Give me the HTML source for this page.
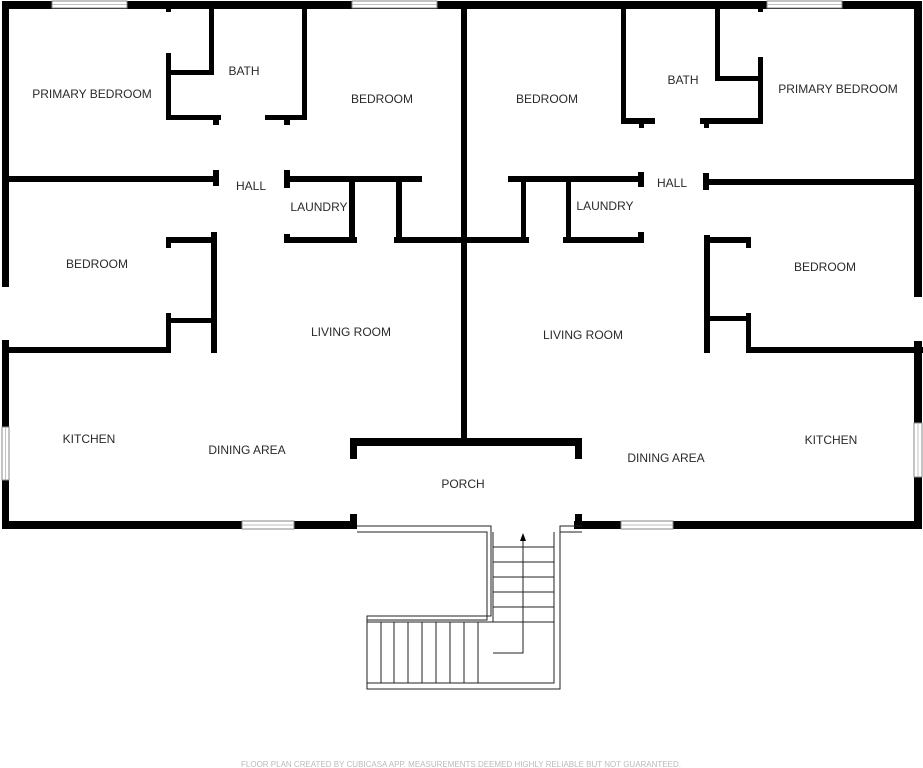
<!DOCTYPE html>
<html><head><meta charset="utf-8"><style>
html,body{margin:0;padding:0;background:#fff;}
svg{display:block;}
text{font-family:"Liberation Sans",sans-serif;font-size:12px;fill:#2a2a2a;text-anchor:middle;}
</style></head><body>
<svg width="923" height="768" viewBox="0 0 923 768">
<g fill="#000">
<rect x="2" y="1" width="919" height="8"/>
<rect x="2" y="1" width="7" height="286"/>
<rect x="2" y="340" width="7" height="188"/>
<rect x="914" y="1" width="8" height="296"/>
<rect x="914" y="341" width="8" height="187"/>
<rect x="2" y="521" width="355" height="8"/>
<rect x="574" y="521" width="348" height="8"/>
<rect x="461" y="1" width="6" height="445"/>
<rect x="350" y="438" width="232" height="8"/>
<rect x="350" y="438" width="7" height="21"/>
<rect x="350" y="514" width="7" height="15"/>
<rect x="575" y="438" width="7" height="21"/>
<rect x="575" y="514" width="7" height="15"/>

<rect x="8" y="176" width="210" height="6"/>
<rect x="166" y="8" width="5" height="4"/>
<rect x="166" y="53" width="5" height="67"/>
<rect x="166" y="70" width="48" height="5"/>
<rect x="209" y="8" width="5" height="67"/>
<rect x="166" y="115" width="55" height="5"/>
<rect x="213" y="115" width="6" height="10"/>
<rect x="265" y="115" width="42" height="5"/>
<rect x="302" y="8" width="5" height="112"/>
<rect x="284" y="115" width="6" height="10"/>
<rect x="213" y="170" width="6" height="16"/>
<rect x="284" y="170" width="6" height="18"/>
<rect x="284" y="176" width="138" height="6"/>
<rect x="349" y="180" width="6" height="62"/>
<rect x="396" y="180" width="6" height="62"/>
<rect x="284" y="234" width="6" height="9"/>
<rect x="284" y="237" width="73" height="6"/>
<rect x="394" y="237" width="72" height="6"/>
<rect x="166" y="237" width="51" height="6"/>
<rect x="166" y="237" width="5" height="11"/>
<rect x="211" y="232" width="6" height="121"/>
<rect x="166" y="318" width="50" height="5"/>
<rect x="166" y="313" width="5" height="40"/>
<rect x="2" y="347" width="169" height="6"/>

<rect x="621" y="8" width="5" height="116"/>
<rect x="621" y="118" width="34" height="6"/>
<rect x="639" y="118" width="5" height="10"/>
<rect x="700" y="118" width="63" height="6"/>
<rect x="704" y="118" width="5" height="10"/>
<rect x="715" y="8" width="5" height="73"/>
<rect x="715" y="76" width="48" height="5"/>
<rect x="758" y="57" width="5" height="67"/>
<rect x="758" y="8" width="5" height="4"/>
<rect x="638" y="172" width="6" height="15"/>
<rect x="703" y="173" width="6" height="17"/>
<rect x="703" y="179" width="212" height="6"/>
<rect x="508" y="176" width="136" height="6"/>
<rect x="461" y="176" width="6" height="6"/>
<rect x="521" y="180" width="5" height="62"/>
<rect x="566" y="180" width="5" height="62"/>
<rect x="461" y="237" width="68" height="6"/>
<rect x="563" y="237" width="81" height="6"/>
<rect x="638" y="232" width="6" height="11"/>
<rect x="704" y="235" width="6" height="118"/>
<rect x="704" y="237" width="47" height="6"/>
<rect x="746" y="237" width="5" height="11"/>
<rect x="704" y="316" width="47" height="5"/>
<rect x="746" y="313" width="5" height="40"/>
<rect x="746" y="347" width="177" height="6"/>
</g>
<g fill="#fff" stroke="#888" stroke-width="1">
<rect x="52" y="1" width="75" height="7"/>
<rect x="352" y="1" width="85" height="7"/>
<rect x="767" y="1" width="75" height="7"/>
<rect x="2" y="427" width="7" height="53"/>
<rect x="914" y="423" width="8" height="54"/>
<rect x="242" y="521" width="52" height="8"/>
<rect x="621" y="521" width="52" height="8"/>
</g>
<g stroke="#aaa" stroke-width="0.7">
<line x1="52" y1="4.5" x2="127" y2="4.5"/><line x1="352" y1="4.5" x2="437" y2="4.5"/><line x1="767" y1="4.5" x2="842" y2="4.5"/>
<line x1="5.5" y1="427" x2="5.5" y2="480"/><line x1="918" y1="423" x2="918" y2="477"/>
<line x1="242" y1="525" x2="294" y2="525"/><line x1="621" y1="525" x2="673" y2="525"/>
</g>
<g fill="none" stroke="#222" stroke-width="1">
<polyline points="357,526 491,526 491,616 367,616 367,689 560,689 560,526 582,526"/>
<polyline points="357,532 487,532 487,620 367,620"/>
<polyline points="493,532 493,622"/>
<polyline points="554,532 554,683 367,683"/>
<polyline points="582,532 560,532"/>
<line x1="367" y1="622" x2="554" y2="622"/>
<line x1="493" y1="547" x2="554" y2="547"/>
<line x1="493" y1="562" x2="554" y2="562"/>
<line x1="493" y1="577" x2="554" y2="577"/>
<line x1="493" y1="592" x2="554" y2="592"/>
<line x1="493" y1="607" x2="554" y2="607"/>
<line x1="381" y1="622" x2="381" y2="683"/>
<line x1="394" y1="622" x2="394" y2="683"/>
<line x1="408" y1="622" x2="408" y2="683"/>
<line x1="422" y1="622" x2="422" y2="683"/>
<line x1="436" y1="622" x2="436" y2="683"/>
<line x1="450" y1="622" x2="450" y2="683"/>
<line x1="464" y1="622" x2="464" y2="683"/>
<line x1="478" y1="622" x2="478" y2="683"/>
<polyline points="493,653 523,653 523,540"/>
</g>
<polygon points="523,533 520,541 526,541" fill="#000"/>
<text x="92" y="98">PRIMARY BEDROOM</text>
<text x="244" y="75">BATH</text>
<text x="382" y="103">BEDROOM</text>
<text x="547" y="103">BEDROOM</text>
<text x="683" y="84">BATH</text>
<text x="838" y="93">PRIMARY BEDROOM</text>
<text x="251" y="190">HALL</text>
<text x="319" y="211">LAUNDRY</text>
<text x="605" y="210">LAUNDRY</text>
<text x="672" y="187">HALL</text>
<text x="97" y="268">BEDROOM</text>
<text x="825" y="271">BEDROOM</text>
<text x="351" y="336">LIVING ROOM</text>
<text x="583" y="339">LIVING ROOM</text>
<text x="89" y="443">KITCHEN</text>
<text x="247" y="454">DINING AREA</text>
<text x="463" y="488">PORCH</text>
<text x="666" y="462">DINING AREA</text>
<text x="831" y="444">KITCHEN</text>
<text x="461" y="767" style="font-size:8px;fill:#bbb">FLOOR PLAN CREATED BY CUBICASA APP. MEASUREMENTS DEEMED HIGHLY RELIABLE BUT NOT GUARANTEED.</text>
</svg>
</body></html>
